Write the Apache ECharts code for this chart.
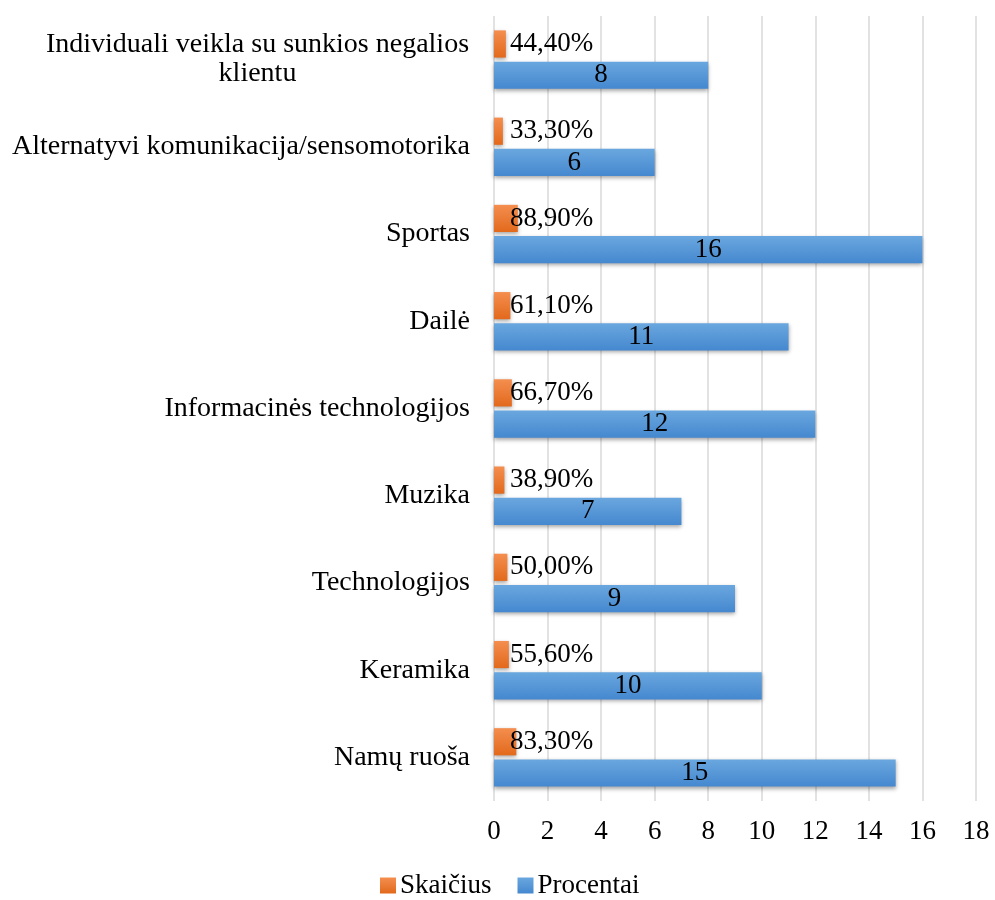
<!DOCTYPE html>
<html>
<head>
<meta charset="utf-8">
<script src="https://cdn.jsdelivr.net/npm/echarts@6/dist/echarts.min.js"></script>
<style>
html,body{margin:0;padding:0;background:#fff;}
#main{width:995px;height:900px;}
</style>
</head>
<body>
<div id="main"></div>
<script>
var categories = ['Individuali veikla su sunkios negalios\nklientu', 'Alternatyvi komunikacija/sensomotorika', 'Sportas', 'Dailė',
    'Informacinės technologijos', 'Muzika', 'Technologijos', 'Keramika', 'Namų ruoša'];
var skaicius = [0.444, 0.333, 0.889, 0.611, 0.667, 0.389, 0.5, 0.556, 0.833];
var procentai = [8, 6, 16, 11, 12, 7, 9, 10, 15];
var seriesNames = ['Skaičius', 'Procentai'];
var xMin = 0, xMax = 18, xStep = 2;

var font = 'Liberation Serif';
var myChart = echarts.init(document.getElementById('main'));

var option = {
    textStyle: {fontFamily: font},
    animation: false,
    legend: {
        data: seriesNames,
        bottom: -4,
        left: 375,
        icon: 'rect',
        itemWidth: 16,
        itemHeight: 16,
        itemGap: 26,
        textStyle: {fontFamily: font, fontSize: 27, color: '#000', padding: [0, 0, 0, -1]}
    },
    grid: {left: 494, right: 19, top: 16, bottom: 99, containLabel: false},
    xAxis: {
        type: 'value',
        min: xMin, max: xMax, interval: xStep,
        axisLine: {show: false},
        axisTick: {show: false},
        splitLine: {lineStyle: {color: '#d9d9d9', width: 1.5}},
        axisLabel: {color: '#000', fontFamily: font, fontSize: 27, margin: 17}
    },
    yAxis: {
        type: 'category',
        inverse: true,
        data: categories,
        axisLine: {show: false},
        axisTick: {show: false},
        axisLabel: {
            color: '#000', fontFamily: font, fontSize: 28, margin: 24,
            formatter: function (v) {
                if (v.indexOf('\n') >= 0) return '{c|' + v + '}';
                return v;
            },
            rich: {c: {width: 425, align: 'center', fontFamily: font, fontSize: 28, lineHeight: 29, color: '#000'}}
        }
    },
    series: [
        {
            name: seriesNames[0],
            type: 'bar',
            data: skaicius,
            barCategoryGap: '33%',
            barGap: '15%',
            itemStyle: {
                color: new echarts.graphic.LinearGradient(0, 0, 0, 1, [
                    {offset: 0, color: '#f48e4f'}, {offset: 1, color: '#e2691c'}]),
                shadowColor: 'rgba(0,0,0,0.35)', shadowBlur: 4, shadowOffsetY: 2
            },
            label: {
                show: true,
                position: [16, '50%'],
                align: 'left',
                verticalAlign: 'middle',
                color: '#000', fontFamily: font, fontSize: 27,
                formatter: function (p) {
                    return (p.value * 100).toFixed(2).replace('.', ',') + '%';
                }
            }
        },
        {
            name: seriesNames[1],
            type: 'bar',
            data: procentai,
            barCategoryGap: '33%',
            barGap: '15%',
            itemStyle: {
                color: new echarts.graphic.LinearGradient(0, 0, 0, 1, [
                    {offset: 0, color: '#6aa7df'}, {offset: 1, color: '#4588cf'}]),
                shadowColor: 'rgba(0,0,0,0.35)', shadowBlur: 4, shadowOffsetY: 2
            },
            label: {
                show: true,
                position: 'inside',
                color: '#000', fontFamily: font, fontSize: 27
            }
        }
    ]
};
myChart.setOption(option);
</script>
</body>
</html>
